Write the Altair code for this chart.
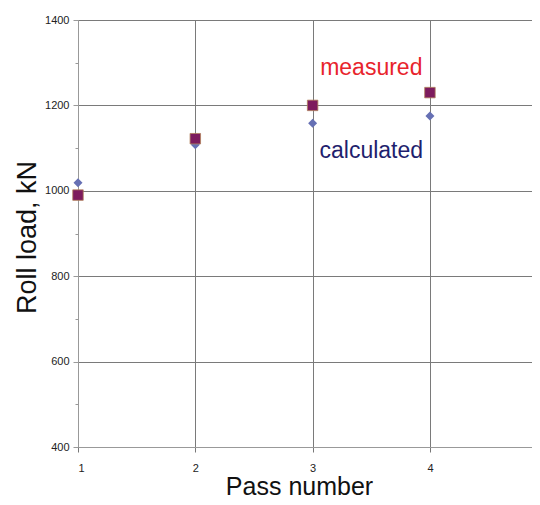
import altair as alt
import pandas as pd

passes = [1, 2, 3, 4]
measured = [990, 1122, 1200, 1230]
calculated = [1019, 1108, 1158, 1175]

label_text = ["measured", "calculated"]
label_x = [3.5, 3.5]
label_y = [1271, 1077]
label_color = ["#e8242c", "#1f1f6e"]

y_ticks = [400, 500, 600, 700, 800, 900, 1000, 1100, 1200, 1300, 1400]
x_ticks = [1, 2, 3, 4]

df_m = pd.DataFrame({"pass": passes, "load": measured})
df_c = pd.DataFrame({"pass": passes, "load": calculated})
df_l = pd.DataFrame({"text": label_text, "x": label_x, "y": label_y, "color": label_color})

FONT = "Liberation Sans"

xscale = alt.Scale(domain=[1, 4.87], nice=False, zero=False)
yscale = alt.Scale(domain=[400, 1400], nice=False, zero=False)

xaxis = alt.Axis(
    values=x_ticks, format="d", title="Pass number", titleFont=FONT, titleFontSize=25,
    titleFontWeight="normal", titleColor="#111", titleX=221, titleY=47,
    titleBaseline="alphabetic", labelFont=FONT, labelFontSize=11, labelColor="#222",
    labelPadding=10, tickSize=5, tickColor="#777", domainColor="#999",
    gridColor="#7a7a7a", grid=True,
)
yaxis = alt.Axis(
    values=y_ticks, format="d", title="Roll load, kN", titleFont=FONT, titleFontSize=27,
    titleFontWeight="normal", titleColor="#111", titleX=-43, titleY=217,
    titleBaseline="alphabetic", titleAngle=270,
    labelFont=FONT, labelFontSize=11, labelColor="#222", labelPadding=4,
    labelExpr="datum.value % 200 === 0 ? datum.label : ''",
    tickSize={"condition": {"test": "datum.value % 200 === 0", "value": 5}, "value": 3},
    tickColor="#999", domainColor="#999", gridColor="#7a7a7a",
    gridOpacity={"condition": {"test": "datum.value % 200 === 0", "value": 1}, "value": 0},
    grid=True,
)

calc = alt.Chart(df_c).mark_point(
    shape="diamond", filled=True, size=82, color="#6670b4", opacity=1
).encode(
    x=alt.X("pass:Q", scale=xscale, axis=xaxis),
    y=alt.Y("load:Q", scale=yscale, axis=yaxis),
)

meas = alt.Chart(df_m).mark_point(
    shape="square", filled=True, size=110, fill="#7d1b5e", stroke="#b0805a",
    strokeWidth=0.8, opacity=1
).encode(x="pass:Q", y="load:Q")

labels = alt.Chart(df_l).mark_text(
    font=FONT, fontSize=23, align="center", baseline="alphabetic"
).encode(
    x="x:Q", y="y:Q", text="text:N",
    color=alt.Color("color:N", scale=None),
)

chart = alt.layer(calc, meas, labels).properties(
    width=454, height=427,
    autosize="none",
    padding={"left": 70, "top": 12, "right": 0, "bottom": 50},
).configure_view(stroke=None).configure(background="white")

chart.save("out.html", embed_options={"renderer": "svg", "actions": False})
